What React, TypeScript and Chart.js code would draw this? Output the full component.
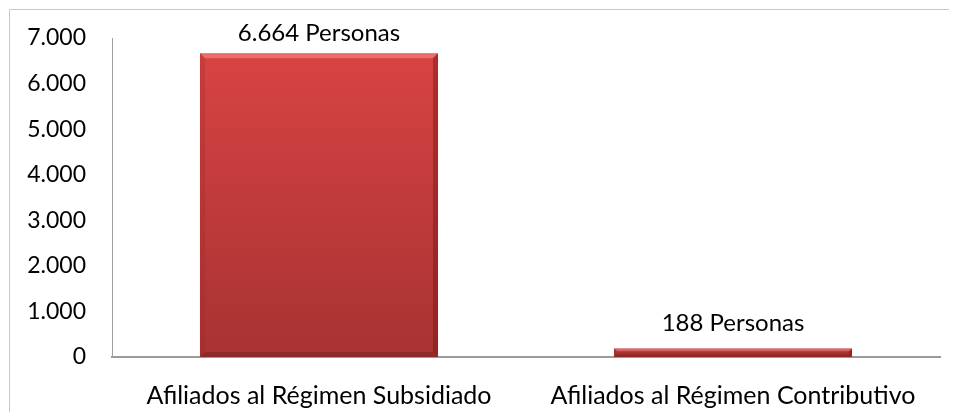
import React, { useEffect, useRef } from "react";
import { Chart, registerables } from "chart.js";

Chart.register(...registerables);

const categories = ["Afiliados al Régimen Subsidiado", "Afiliados al Régimen Contributivo"];
const personas = [6664, 188];
const dataLabels = ["6.664 Personas", "188 Personas"];
const yTickLabels = ["0", "1.000", "2.000", "3.000", "4.000", "5.000", "6.000", "7.000"];

const FONT = "Lato, 'Open Sans', sans-serif";
const FS = 25;

const framePlugin = {
  id: "frame",
  beforeDraw(chart: any) {
    const ctx = chart.ctx;
    ctx.save();
    ctx.strokeStyle = "#c8c8c8";
    ctx.lineWidth = 1;
    ctx.beginPath();
    ctx.moveTo(1.5, chart.height + 5);
    ctx.lineTo(1.5, 1.5);
    ctx.lineTo(chart.width + 5, 1.5);
    ctx.stroke();
    ctx.restore();
  },
};

const bevelPlugin = {
  id: "bevel",
  afterDatasetsDraw(chart: any) {
    const ctx = chart.ctx;
    const meta = chart.getDatasetMeta(0);
    ctx.save();
    meta.data.forEach((bar: any, i: number) => {
      const left = bar.x - bar.width / 2;
      const right = bar.x + bar.width / 2;
      const top = bar.y;
      const bottom = bar.base;
      const h = bottom - top;
      const e = Math.min(5, h / 3);
      ctx.fillStyle = "rgba(255,140,140,0.55)";
      ctx.beginPath();
      ctx.moveTo(left, top);
      ctx.lineTo(right, top);
      ctx.lineTo(right - e, top + e);
      ctx.lineTo(left + e, top + e);
      ctx.closePath();
      ctx.fill();
      ctx.fillStyle = "rgba(120,20,20,0.45)";
      ctx.beginPath();
      ctx.moveTo(right, top);
      ctx.lineTo(right, bottom);
      ctx.lineTo(right - e, bottom - e);
      ctx.lineTo(right - e, top + e);
      ctx.closePath();
      ctx.fill();
      ctx.fillStyle = "rgba(110,30,30,0.45)";
      ctx.beginPath();
      ctx.moveTo(left, bottom);
      ctx.lineTo(right, bottom);
      ctx.lineTo(right - e, bottom - e);
      ctx.lineTo(left + e, bottom - e);
      ctx.closePath();
      ctx.fill();
      ctx.fillStyle = "rgba(150,40,40,0.25)";
      ctx.beginPath();
      ctx.moveTo(left, top);
      ctx.lineTo(left, bottom);
      ctx.lineTo(left + e, bottom - e);
      ctx.lineTo(left + e, top + e);
      ctx.closePath();
      ctx.fill();

      ctx.fillStyle = "#000";
      ctx.font = `${FS - 1}px ${FONT}`;
      ctx.textAlign = "center";
      ctx.textBaseline = "middle";
      const y = Math.max(top - 25, 25);
      ctx.fillText(dataLabels[i], bar.x, y);
    });
    ctx.restore();
  },
};

export default function App() {
  const ref = useRef<HTMLCanvasElement>(null);
  useEffect(() => {
    if (!ref.current) return;
    const chart = new Chart(ref.current, {
      type: "bar",
      data: {
        labels: categories,
        datasets: [
          {
            data: personas,
            backgroundColor: (c: any) => {
              const area = c.chart.chartArea;
              if (!area) return "#c83a3a";
              const g = c.chart.ctx.createLinearGradient(0, area.top, 0, area.bottom);
              g.addColorStop(0, "#da4444");
              g.addColorStop(1, "#a83232");
              return g;
            },
            borderWidth: 0,
            categoryPercentage: 0.575,
            barPercentage: 1,
          },
        ],
      },
      options: {
        animation: false,
        responsive: false,
        maintainAspectRatio: false,
        layout: { padding: { left: 0, top: 30, right: 9, bottom: 0 } },
        plugins: { legend: { display: false }, tooltip: { enabled: false } },
        scales: {
          x: {
            grid: { display: false, drawTicks: false },
            border: { display: true, color: "#9a9a9a", width: 2 },
            ticks: { color: "#000", font: { family: FONT, size: FS }, padding: 24, maxRotation: 0 },
            afterFit: (s: any) => {
              s.height = 55;
              s.paddingLeft = 0;
              s.paddingRight = 0;
            },
          },
          y: {
            min: 0,
            max: 7000,
            grid: { display: false, drawTicks: false },
            border: { display: true, color: "#a0a0a0", width: 1 },
            ticks: {
              stepSize: 1000,
              color: "#000",
              font: { family: FONT, size: 23 },
              padding: 26,
              callback: (_v: any, i: number) => yTickLabels[i],
            },
            afterFit: (s: any) => {
              s.width = 104;
              s.paddingTop = 0;
              s.paddingBottom = 0;
            },
          },
        },
      },
      plugins: [framePlugin, bevelPlugin],
    });
    return () => chart.destroy();
  }, []);
  return (
    <div style={{ width: 941, height: 404 }}>
      <canvas ref={ref} width={941} height={404} style={{ display: "block" }} />
    </div>
  );
}
